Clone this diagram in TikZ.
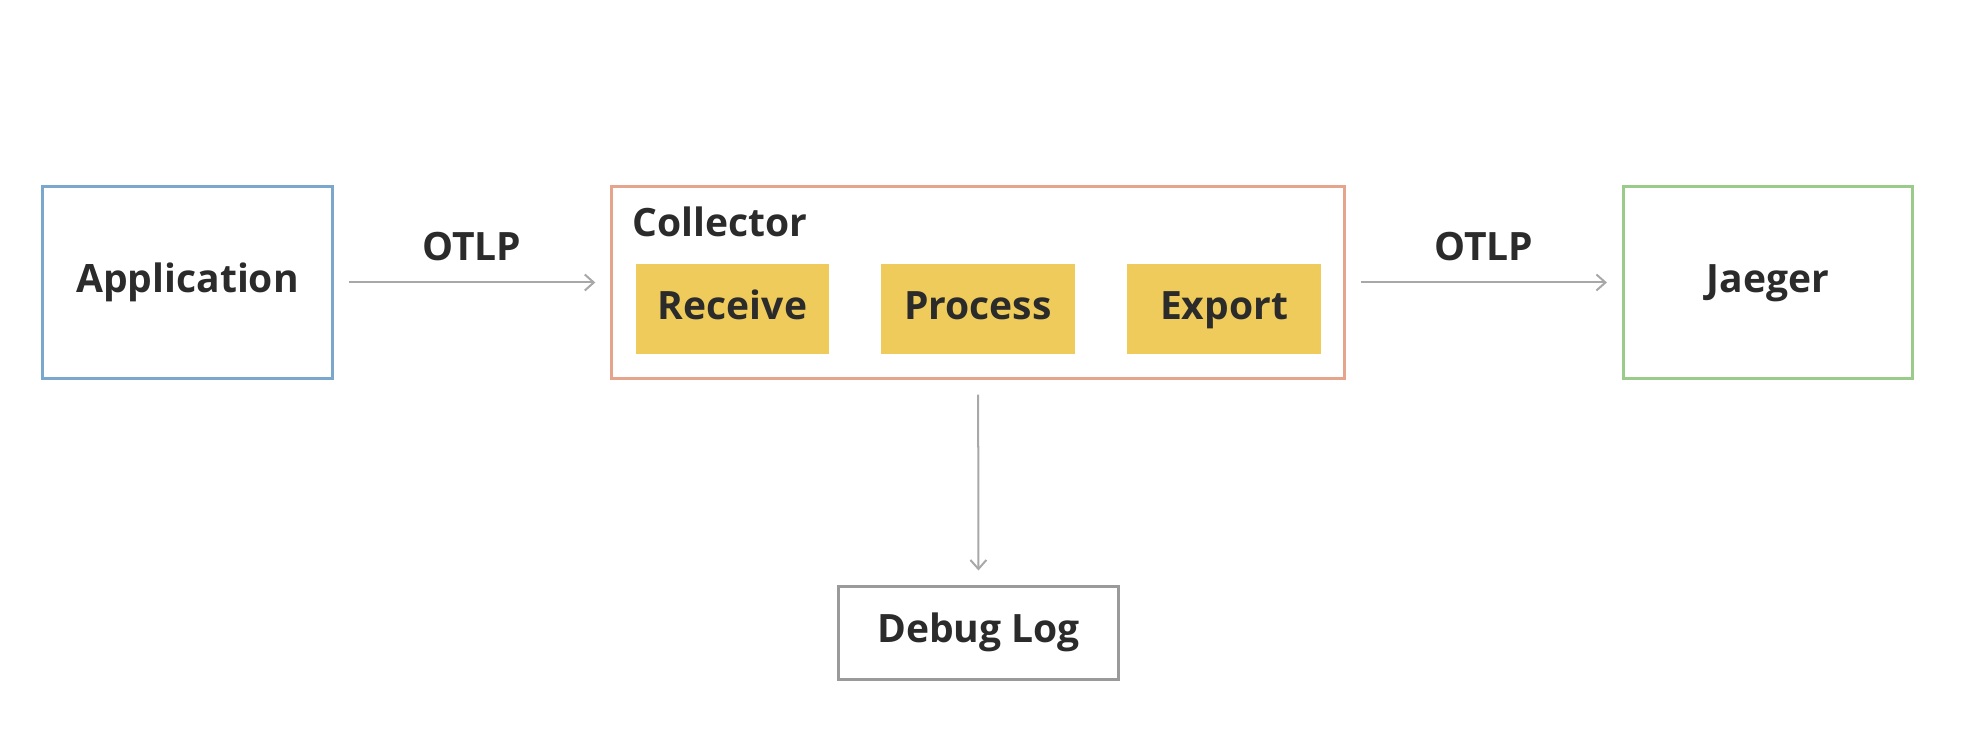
\documentclass[tikz,border=0pt]{standalone}
\usepackage{fontspec}
\setmainfont{Open Sans}
\usepackage{tikz}
\usetikzlibrary{arrows.meta}

\definecolor{appblue}{HTML}{7BA7CC}
\definecolor{colsalmon}{HTML}{E5A58C}
\definecolor{jaegreen}{HTML}{9BCB8A}
\definecolor{stageyellow}{HTML}{EECB5A}
\definecolor{dbggray}{HTML}{9A9A9A}
\definecolor{edgegray}{HTML}{A8A8A8}
\definecolor{ink}{HTML}{2B2B2B}

\begin{document}
\begin{tikzpicture}[x=0.01cm,y=-0.01cm]
  \tikzset{box/.style = {shape=rectangle,draw,line width=0.03cm,minimum width=2.89cm,minimum height=1.91cm,inner sep=0pt,text height=8.3pt,text depth=2.5pt}}
  \tikzset{stagebox/.style = {shape=rectangle,fill=stageyellow,minimum width=1.93cm,minimum height=0.9cm,inner sep=0pt,text height=8.3pt,text depth=2.3pt}}
  \tikzset{edge/.style = {-tipA,draw=edgegray,line width=0.02cm,shorten <=0.15cm,shorten >=0.15cm}}
  \tikzset{%
  tipA/.tip={Straight Barb[length=0.9mm,width=1.6mm,line width=0.02cm]},
}
  \tikzset{every node/.style={font=\fontsize{11.1}{13}\selectfont\bfseries,text=ink}}

  \useasboundingbox (0,0) rectangle (1964,746);

	\node[box,draw=appblue] (App) at (187.5,282.5) {Application};
	\node[box,draw=colsalmon,minimum width=7.32cm] (Col) at (978,282.5) {};
	\node[anchor=base west,inner sep=0pt] (ColT) at (632,237) {Collector};
	\node[stagebox] (Rec) at (732.5,309) {Receive};
	\node[stagebox] (Pro) at (978,309) {Process};
	\node[stagebox] (Exp) at (1224,309) {Export};
	\node[box,draw=jaegreen] (Jae) at (1768,282.5) {Jaeger};
	\node[box,draw=dbggray,minimum width=2.79cm,minimum height=0.92cm,text depth=3pt] (Dbg) at (978.5,633) {Debug Log};

    \foreach \from/\to in {App/Col, Col/Jae}
    \path[edge](\from) edge node [above=2.5pt]{OTLP} (\to);
    \path[edge](Col) edge (Dbg);

\end{tikzpicture}
\end{document}
